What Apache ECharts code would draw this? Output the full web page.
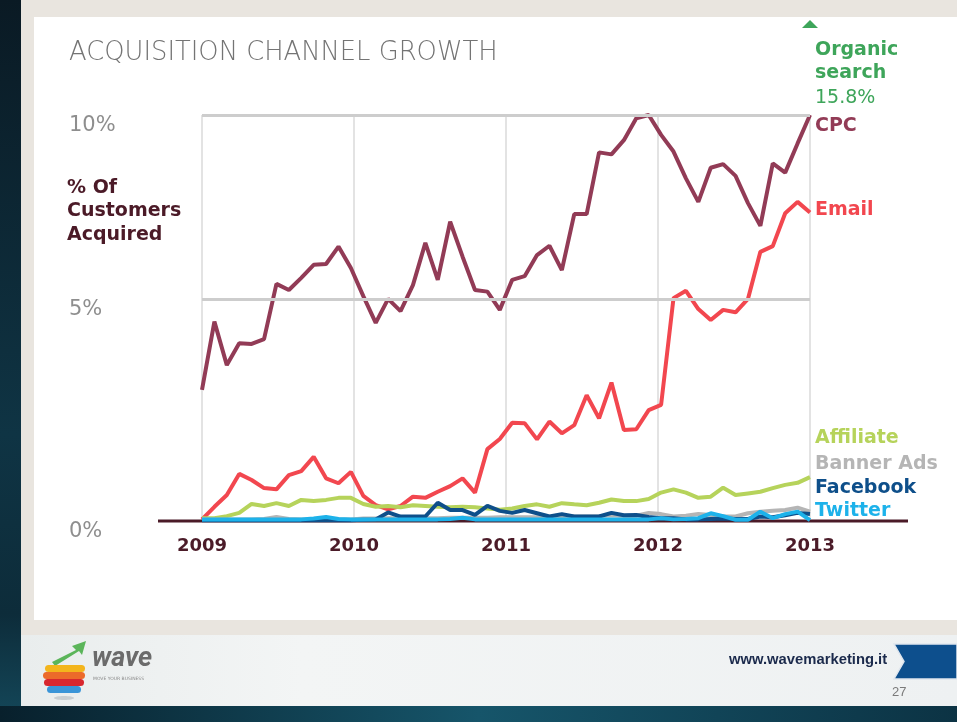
<!DOCTYPE html>
<html><head><meta charset="utf-8">
<script src="https://cdn.jsdelivr.net/npm/echarts@6/dist/echarts.min.js"></script>
<style>html,body{margin:0;padding:0;background:#e9e5df}#c{width:957px;height:722px}</style>
</head><body><div id="c"></div>
<script>
// ---- data ----
const periods = ['1','2','3','4','5','6','7','8','9','10','11','12','13','14','15','16','17','18','19','20','21','22','23','24','25','26','27','28','29','30','31','32','33','34','35','36','37','38','39','40','41','42','43','44','45','46','47','48','49','50'];
const yearTicks = [2009, 2010, 2011, 2012, 2013];
const yGridValues = [0, 5.46, 10];
const yGridLabels = ['0%', '5%', '10%'];

const cpc = [3.23,4.91,3.84,4.38,4.36,4.48,5.84,5.69,5.99,6.31,6.33,6.76,6.23,5.54,4.88,5.47,5.17,5.81,6.85,5.94,7.37,6.51,5.69,5.65,5.20,5.94,6.03,6.55,6.78,6.18,7.56,7.56,9.08,9.03,9.38,9.92,10.0,9.51,9.10,8.44,7.86,8.70,8.79,8.50,7.83,7.27,8.81,8.58,9.30,10.0];
const email = [0.04,0.35,0.64,1.16,1.01,0.81,0.78,1.13,1.23,1.58,1.05,0.93,1.21,0.62,0.39,0.29,0.37,0.60,0.57,0.72,0.86,1.05,0.70,1.77,2.02,2.42,2.41,2.01,2.45,2.16,2.36,3.10,2.53,3.41,2.24,2.26,2.73,2.86,5.49,5.67,5.22,4.95,5.20,5.14,5.47,6.63,6.77,7.58,7.86,7.60];
const affiliate = [0.07,0.07,0.12,0.20,0.42,0.37,0.44,0.37,0.52,0.49,0.52,0.57,0.57,0.42,0.35,0.37,0.34,0.39,0.37,0.35,0.34,0.35,0.34,0.31,0.28,0.31,0.37,0.41,0.35,0.44,0.41,0.39,0.45,0.53,0.49,0.49,0.54,0.70,0.78,0.70,0.57,0.60,0.82,0.64,0.68,0.72,0.81,0.89,0.94,1.08];
const bannerAds = [0.04,0.04,0.04,0.04,0.04,0.05,0.10,0.05,0.04,0.04,0.04,0.04,0.04,0.06,0.06,0.07,0.07,0.07,0.07,0.07,0.08,0.08,0.08,0.08,0.09,0.09,0.09,0.09,0.10,0.10,0.11,0.11,0.12,0.14,0.12,0.13,0.20,0.17,0.11,0.13,0.17,0.15,0.12,0.11,0.19,0.23,0.25,0.27,0.33,0.23];
const facebook = [0.02,0.02,0.02,0.02,0.02,0.02,0.02,0.02,0.02,0.02,0.02,0.02,0.02,0.03,0.04,0.21,0.11,0.11,0.11,0.45,0.27,0.27,0.15,0.37,0.25,0.20,0.27,0.19,0.11,0.17,0.11,0.11,0.11,0.20,0.14,0.15,0.10,0.07,0.07,0.04,0.04,0.05,0.06,0.05,0.05,0.11,0.09,0.14,0.20,0.17];
const twitter = [0.04,0.04,0.04,0.04,0.04,0.04,0.04,0.04,0.04,0.06,0.10,0.05,0.04,0.04,0.04,0.04,0.04,0.04,0.04,0.04,0.05,0.08,0.04,0.04,0.04,0.04,0.04,0.04,0.04,0.04,0.04,0.04,0.04,0.04,0.04,0.04,0.04,0.07,0.04,0.05,0.07,0.19,0.12,0.03,0.03,0.23,0.07,0.17,0.23,0.02];

const C = {
  cpc: '#923b56', email: '#f2474f', affiliate: '#b6d35b', banner: '#b5b5b5',
  facebook: '#0e4f8a', twitter: '#1db2ea', organic: '#3ea55a', axis: '#4b1b28'
};

function line(name, data, color, z) {
  return { name, type: 'line', data, xAxisIndex: 0, yAxisIndex: 0, symbol: 'none',
    lineStyle: { color, width: 4 }, itemStyle: { color }, z, silent: true };
}

const chart = echarts.init(document.getElementById('c'), null, { renderer: 'canvas' });
const bold = 'DejaVu Sans';
function label(text, y, color, weight) {
  return { type: 'text', left: 815, top: y - 7, z: 10,
    style: { text, fill: color, font: (weight || 'bold') + ' 19px "DejaVu Sans"', textVerticalAlign: 'top' } };
}

chart.setOption({
  animation: false,
  backgroundColor: '#e9e5df',
  grid: { left: 202, right: 147, top: 115, bottom: 201, containLabel: false },
  xAxis: [
    { type: 'category', data: periods, boundaryGap: false, show: false },
    { type: 'value', min: 2009, max: 2013, interval: 1, position: 'bottom',
      axisLine: { show: false }, axisTick: { show: false },
      splitLine: { show: true, lineStyle: { color: '#dadada', width: 1.5 } },
      axisLabel: { formatter: v => String(v), fontFamily: bold, fontWeight: 'bold', fontSize: 18, color: C.axis, margin: 16 } }
  ],
  yAxis: { type: 'value', min: 0, max: 10,
    axisLine: { show: false }, axisTick: { show: false }, splitLine: { show: false },
    axisLabel: { customValues: yGridValues, formatter: v => yGridLabels[yGridValues.indexOf(v)] || '',
      align: 'left', verticalAlign: 'top', margin: 133, fontFamily: 'DejaVu Sans', fontSize: 21, color: '#8e8e8e' } },
  series: [
    { type: 'line', data: [], z: 1, silent: true,
      markLine: { silent: true, symbol: ['none', 'none'], label: { show: false },
        lineStyle: { color: '#cdcdcd', width: 3, type: 'solid' },
        data: [{ yAxis: yGridValues[2] }, { yAxis: yGridValues[1] }] } },
    line('CPC', cpc, C.cpc, 3),
    line('Email', email, C.email, 3),
    line('Affiliate', affiliate, C.affiliate, 3),
    line('Banner Ads', bannerAds, C.banner, 3),
    line('Facebook', facebook, C.facebook, 4),
    line('Twitter', twitter, C.twitter, 5)
  ],
  graphic: [
    // slide frame
    { type: 'rect', z: -10, shape: { x: 0, y: 0, width: 21, height: 722 },
      style: { fill: new echarts.graphic.LinearGradient(0, 0, 0, 1, [{ offset: 0, color: '#0a1a24' }, { offset: 0.6, color: '#0f3444' }, { offset: 0.85, color: '#0d2c3a' }, { offset: 1, color: '#14485a' }]) } },
    { type: 'rect', z: -9, shape: { x: 34, y: 17, width: 923, height: 603 }, style: { fill: '#ffffff' } },
    { type: 'rect', z: -9, shape: { x: 21, y: 635, width: 936, height: 71 },
      style: { fill: new echarts.graphic.LinearGradient(0, 0, 1, 0, [{ offset: 0, color: '#e9eded' }, { offset: 0.3, color: '#f3f5f5' }, { offset: 1, color: '#eef1f2' }]) } },
    { type: 'rect', z: -9, shape: { x: 0, y: 706, width: 957, height: 16 },
      style: { fill: new echarts.graphic.LinearGradient(0, 0, 1, 0, [{ offset: 0, color: '#08202c' }, { offset: 0.5, color: '#16556a' }, { offset: 1, color: '#0c3344' }]) } },
    // title
    { type: 'text', left: 69, top: 40, z: 10,
      style: { text: 'ACQUISITION CHANNEL GROWTH', fill: '#747474', font: '200 25.8px "DejaVu Sans"' } },
    // y-axis title
    { type: 'text', left: 67, top: 176, z: 10,
      style: { text: '% Of\nCustomers\nAcquired', fill: '#4b1a27', font: 'bold 19px "DejaVu Sans"', lineHeight: 23.5 } },
    // baseline
    { type: 'rect', z: 1, shape: { x: 158, y: 519.5, width: 750, height: 3 }, style: { fill: C.axis } },
    // organic search marker
    { type: 'polygon', z: 10, shape: { points: [[802, 28], [818, 28], [810, 20]] }, style: { fill: C.organic } },
    label('Organic', 48, C.organic),
    label('search', 71, C.organic),
    label('15.8%', 96, C.organic, 'normal'),
    label('CPC', 124, C.cpc),
    label('Email', 208, C.email),
    label('Affiliate', 436, C.affiliate),
    label('Banner Ads', 462, C.banner),
    label('Facebook', 486, C.facebook),
    label('Twitter', 509, C.twitter),
    // footer logo
    { type: 'polygon', z: 10, shape: { points: [[52, 662], [76, 650], [72, 646], [86, 641], [82, 655], [79, 651], [55, 666]] }, style: { fill: '#5bb55a' } },
    { type: 'rect', z: 10, shape: { x: 45, y: 665, width: 40, height: 7, r: 4 }, style: { fill: '#f3b51c' } },
    { type: 'rect', z: 10, shape: { x: 43, y: 672, width: 42, height: 7, r: 4 }, style: { fill: '#ec6a2a' } },
    { type: 'rect', z: 10, shape: { x: 44, y: 679, width: 40, height: 7, r: 4 }, style: { fill: '#d8272e' } },
    { type: 'rect', z: 10, shape: { x: 47, y: 686, width: 34, height: 7, r: 4 }, style: { fill: '#3a95d8' } },
    { type: 'ellipse', z: 10, shape: { cx: 64, cy: 698, rx: 10, ry: 2 }, style: { fill: '#c9cfd2' } },
    { type: 'text', left: 92, top: 646, z: 10, style: { text: 'wave', fill: '#6b6b6b', font: 'italic bold 27px "Roboto"' } },
    { type: 'text', left: 93, top: 676, z: 10, style: { text: 'MOVE YOUR BUSINESS', fill: '#8a8a8a', font: '4.5px "DejaVu Sans"' } },
    { type: 'text', left: 729, top: 652, z: 10, style: { text: 'www.wavemarketing.it', fill: '#1b2a4c', font: 'bold 14.8px "Liberation Sans"' } },
    { type: 'polygon', z: 10, shape: { points: [[894, 644], [957, 644], [957, 679], [894, 679], [904, 661.5]] },
      style: { fill: '#0d4f8d', stroke: '#dfe6ee', lineWidth: 1.5 } },
    { type: 'text', left: 892, top: 686, z: 10, style: { text: '27', fill: '#7a7a7a', font: '13px "Liberation Sans"' } }
  ]
});
</script></body></html>
